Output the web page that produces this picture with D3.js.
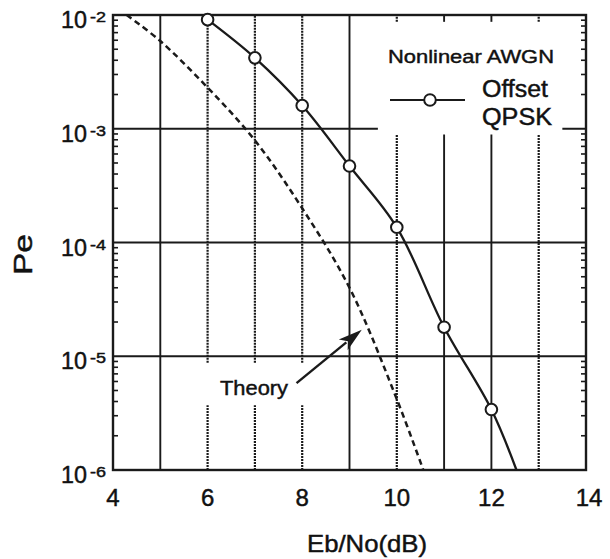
<!DOCTYPE html>
<html><head><meta charset="utf-8">
<script src="https://cdn.jsdelivr.net/npm/d3@7"></script>
<style>body{margin:0;background:#fff}svg{display:block}text{font-family:"Liberation Sans",Arial,Helvetica,sans-serif;fill:#111;stroke:#111;stroke-width:0.45px}</style>
</head><body><svg id="c" width="610" height="559"></svg>
<script>
// ---- data ----
const xTicks = [4, 6, 8, 10, 12, 14];
const yTicks = [1e-2, 1e-3, 1e-4, 1e-5, 1e-6];
const yTickExp = ["-2", "-3", "-4", "-5", "-6"];
const qpskX = [6, 7, 8, 9, 10, 11, 12];
const qpskY = [9.1e-3, 4.2e-3, 1.6e-3, 4.7e-4, 1.36e-4, 1.8e-5, 3.4e-6];
const qpskTailX = [12.53];
const qpskTailY = [1e-6];
const theoryX = [4.29, 5, 6, 7, 8, 9, 10, 10.56];
const theoryY = [1e-2, 5.9e-3, 2.3e-3, 7.9e-4, 2.0e-4, 4.0e-5, 4.2e-6, 1e-6];
const xGridSolid = [5, 9, 11, 12];
const xGridDotted = [6, 7, 8, 10, 13];
const legendTitle = "Nonlinear AWGN";
const legendLabel = ["Offset", "QPSK"];
const theoryLabel = "Theory";
const xTitle = "Eb/No(dB)";
const yTitle = "Pe";

// ---- layout ----
const L = 113, R = 586, T = 15, B = 470;
const svg = d3.select("#c");
const x = d3.scaleLinear().domain([4, 14]).range([L, R]);
const y = d3.scaleLog().domain([1e-6, 1e-2]).range([B, T]);
const ink = "#1a1a1a";

function vSegs(v) {
  if (v === 5 || v === 9) return [[1e-6, 1e-2]];
  if (v >= 6 && v <= 8) return [[1e-6, Math.pow(10, -5.43)], [Math.pow(10, -5.057), 1e-2]];
  return [[1e-6, Math.pow(10, -3.05)], [Math.pow(10, -2.06), 1e-2]];
}
const gv = svg.append("g");
[...xGridSolid, ...xGridDotted].forEach(v => {
  const dotted = xGridDotted.includes(v);
  vSegs(v).forEach(s => {
    gv.append("line").attr("x1", x(v)).attr("x2", x(v)).attr("y1", y(s[0])).attr("y2", y(s[1]))
      .attr("stroke", ink).attr("stroke-width", dotted ? 2.2 : 1.9)
      .attr("stroke-dasharray", dotted ? "2,1" : null);
  });
});
function hSegs(t) {
  if (t === 1e-3) return [[4, 9.6], [13.5, 14]];
  return [[4, 14]];
}
[1e-3, 1e-4, 1e-5].forEach(t => {
  hSegs(t).forEach(s => {
    gv.append("line").attr("x1", x(s[0])).attr("x2", x(s[1])).attr("y1", y(t)).attr("y2", y(t))
      .attr("stroke", ink).attr("stroke-width", 2);
  });
});

const minors = [];
for (let e = -6; e < -2; e++) for (let m = 2; m <= 9; m++) minors.push(m * Math.pow(10, e));
minors.forEach(v => {
  gv.append("line").attr("x1", L).attr("x2", L + 5).attr("y1", y(v)).attr("y2", y(v)).attr("stroke", ink).attr("stroke-width", 1.6);
  gv.append("line").attr("x1", R).attr("x2", R - 5).attr("y1", y(v)).attr("y2", y(v)).attr("stroke", ink).attr("stroke-width", 1.6);
});

svg.append("rect").attr("x", L).attr("y", T).attr("width", R - L).attr("height", B - T)
  .attr("fill", "none").attr("stroke", ink).attr("stroke-width", 2.4);

const line = d3.line().x(d => x(d[0])).y(d => y(d[1])).curve(d3.curveCatmullRom);
svg.append("path").datum(theoryX.map((v, i) => [v, theoryY[i]]))
  .attr("d", line).attr("fill", "none").attr("stroke", ink).attr("stroke-width", 2.5)
  .attr("stroke-dasharray", "6,4");

const qpskAll = qpskX.map((v, i) => [v, qpskY[i]]).concat(qpskTailX.map((v, i) => [v, qpskTailY[i]]));
svg.append("path").datum(qpskAll).attr("d", line).attr("fill", "none").attr("stroke", ink).attr("stroke-width", 2.3);
svg.selectAll("circle.m").data(qpskX.map((v, i) => [v, qpskY[i]])).enter().append("circle")
  .attr("cx", d => x(d[0])).attr("cy", d => y(d[1])).attr("r", 5.8)
  .attr("fill", "#fff").attr("stroke", ink).attr("stroke-width", 2);

function txt(xp, yp, size, len, s, anchor) {
  return svg.append("text").attr("x", xp).attr("y", yp).attr("font-size", size)
    .attr("text-anchor", anchor || "start")
    .attr("textLength", len).attr("lengthAdjust", "spacingAndGlyphs").text(s);
}

yTicks.forEach((t, i) => {
  svg.append("text").attr("x", 61).attr("y", y(t) + 13).attr("font-size", 24)
    .attr("textLength", 26).attr("lengthAdjust", "spacingAndGlyphs").text("10");
  svg.append("text").attr("x", 90).attr("y", y(t) + 7).attr("font-size", 15)
    .attr("textLength", 16).attr("lengthAdjust", "spacingAndGlyphs").text(yTickExp[i]);
});
xTicks.forEach(t => {
  svg.append("text").attr("x", x(t) + (t === 14 ? 3 : 0)).attr("y", 506).attr("text-anchor", "middle").attr("font-size", 24).text(t);
});
txt(307, 552, 24, 120, xTitle);
svg.append("text").attr("transform", "translate(32,275) rotate(-90)").attr("font-size", 26)
  .attr("textLength", 41).attr("lengthAdjust", "spacingAndGlyphs").text(yTitle);

txt(388, 63, 19, 166, legendTitle);
svg.append("line").attr("x1", 390).attr("x2", 465).attr("y1", 100).attr("y2", 100).attr("stroke", ink).attr("stroke-width", 2.2);
svg.append("circle").attr("cx", 430).attr("cy", 100).attr("r", 5.8).attr("fill", "#fff").attr("stroke", ink).attr("stroke-width", 2);
txt(482, 97, 23, 66, legendLabel[0]);
txt(482, 125, 23, 70, legendLabel[1]);

txt(220, 395, 20, 68, theoryLabel);
const a0 = [x(7.88), y(5.8e-6)], a1 = [x(9.26), y(1.71e-5)];
const ang = Math.atan2(a1[1] - a0[1], a1[0] - a0[0]);
const hl = 24, hw = 7;
const base = [a1[0] - hl * Math.cos(ang), a1[1] - hl * Math.sin(ang)];
svg.append("line").attr("x1", a0[0]).attr("y1", a0[1]).attr("x2", base[0] + 4 * Math.cos(ang)).attr("y2", base[1] + 4 * Math.sin(ang))
  .attr("stroke", ink).attr("stroke-width", 2.4);
svg.append("path").attr("d", d3.line()([
  a1,
  [base[0] + hw * Math.sin(ang), base[1] - hw * Math.cos(ang)],
  [base[0] + 6 * Math.cos(ang), base[1] + 6 * Math.sin(ang)],
  [base[0] - hw * Math.sin(ang), base[1] + hw * Math.cos(ang)]
]) + "Z").attr("fill", ink);
</script></body></html>
